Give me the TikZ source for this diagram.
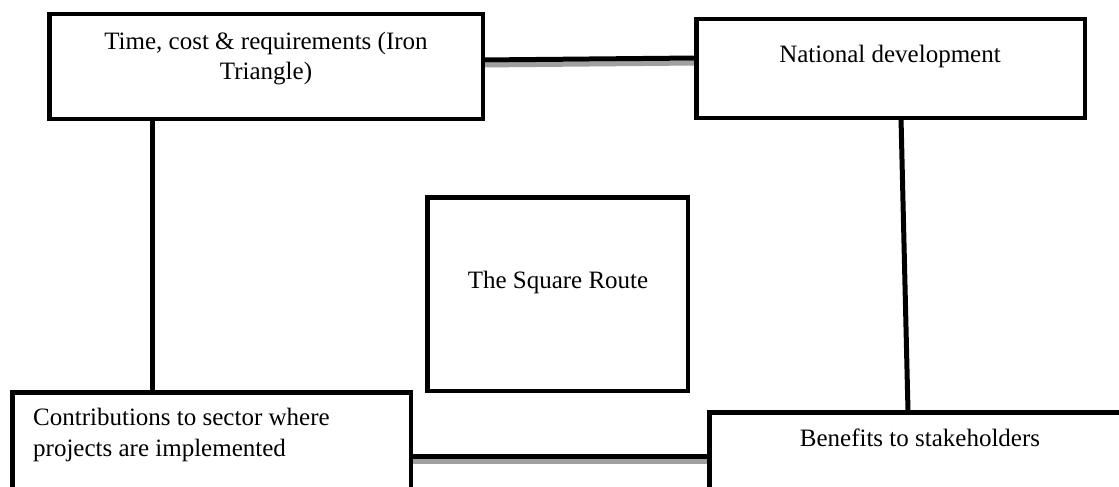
\documentclass[tikz,border=0pt]{standalone}
\usepackage{fontspec}
\setmainfont{Liberation Serif}
\usetikzlibrary{calc}
\definecolor{shadowgray}{HTML}{A0A0A0}
\begin{document}
\begin{tikzpicture}[x=1pt,y=-1pt,
  box/.style={draw=black, line width=4.5pt, inner sep=0pt, outer sep=0pt},
  lbl/.style={inner sep=0pt, font=\fontsize{25}{31}\selectfont},
  conn/.style={line width=5pt, draw=black},
  shade/.style={line width=5pt, draw=shadowgray}]
\useasboundingbox (0,0) rectangle (1119,487);
\clip (0,0) rectangle (1119,487);
\fill[white] (0,0) rectangle (1119,487);
% boxes (geometry)
\node[box, minimum width=433.5pt, minimum height=104.5pt] (b1) at (266,66.5) {};
\node[box, minimum width=388.5pt, minimum height=98.5pt] (b2) at (890.5,68.5) {};
\node[box, minimum width=260.5pt, minimum height=193.5pt] (b0) at (557.5,294) {};
\node[box, minimum width=398.5pt, minimum height=127.75pt] (b3) at (211.5,456.125) {};
\node[box, minimum width=490.75pt, minimum height=87.75pt] (b4) at (954.625,456.125) {};
% connectors: shadows then black lines
\draw[shade] ([yshift=1.5pt]b1.east) -- ([yshift=5.5pt]b2.west);
\draw[shade] ([yshift=-5pt]b3.east) -- ([yshift=-5pt]b4.west);
\draw[conn] ([yshift=6.5pt]b1.east) -- ([yshift=10.5pt]b2.west);
\draw[conn] (b3.east) -- (b4.west);
\draw[conn] ([xshift=-114pt]b1.south) -- ([xshift=-114pt]b1.south |- b3.north);
\draw[conn] ([xshift=10.5pt]b2.south) -- ([xshift=-46.6pt]b4.north);
% redraw box borders on top
\draw[box] (b1.north west) rectangle (b1.south east);
\draw[box] (b2.north west) rectangle (b2.south east);
\draw[box] (b3.north west) rectangle (b3.south east);
\draw[box] (b4.north west) rectangle (b4.south east);
% texts (base anchor = baseline of last line)
\node[lbl, anchor=base, align=center] (t1) at (266,80) {Time, cost \& requirements (Iron\\Triangle)};
\node[lbl, anchor=base] (t2) at (890,63) {National development};
\node[lbl, anchor=base] (t0) at (558,288) {The Square Route};
\node[lbl, anchor=base west, align=left] (t3) at (33,456) {Contributions to sector where\\projects are implemented};
\node[lbl, anchor=base] (t4) at (920,446) {Benefits to stakeholders};
\end{tikzpicture}
\end{document}
